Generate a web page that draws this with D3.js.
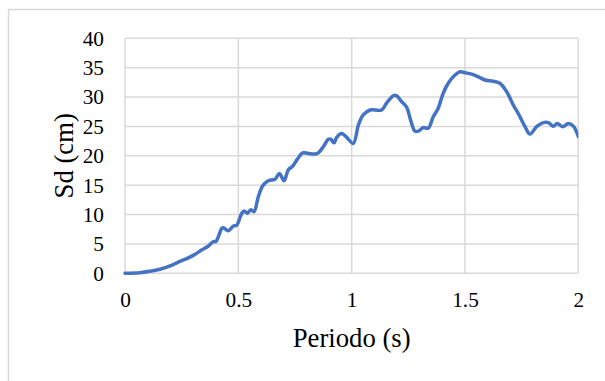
<!DOCTYPE html>
<html>
<head>
<meta charset="utf-8">
<script src="https://cdn.jsdelivr.net/npm/d3@7"></script>
<style>
  html, body { margin: 0; padding: 0; background: #fff; }
  svg { display: block; }
  svg text { font-family: 'Liberation Serif', 'Times New Roman', serif !important; fill: #000; }
</style>
</head>
<body>
<svg id="chart" width="605" height="381"></svg>
<script>
const periods = [0,0.066,0.11,0.154,0.199,0.235,0.272,0.301,0.338,0.368,0.39,0.401,0.427,0.434,0.456,0.478,0.492,0.515,0.526,0.54,0.554,0.569,0.588,0.607,0.632,0.662,0.681,0.702,0.72,0.74,0.76,0.784,0.809,0.838,0.853,0.875,0.897,0.907,0.922,0.934,0.956,0.978,1.007,1.03,1.051,1.081,1.132,1.154,1.184,1.199,1.221,1.243,1.26,1.279,1.294,1.316,1.338,1.36,1.382,1.404,1.426,1.456,1.478,1.5,1.529,1.559,1.588,1.625,1.654,1.684,1.713,1.735,1.765,1.787,1.816,1.846,1.868,1.89,1.907,1.931,1.956,1.978,2.0];
const sdValues = [0,0.1,0.35,0.7,1.25,1.9,2.5,3.05,3.95,4.65,5.4,5.4,7.65,7.75,7.25,8.05,8.15,10.2,10.6,10.2,10.8,10.5,13.0,14.85,15.75,16.0,17.0,15.75,17.6,18.25,19.4,20.5,20.4,20.3,20.5,21.55,22.8,22.85,22.2,23.15,23.8,23.15,22.1,25.25,26.95,27.8,27.8,28.95,30.25,30.2,29.2,28.25,26.1,24.2,24.2,24.8,24.7,26.65,28.1,30.65,32.35,33.75,34.3,34.15,33.9,33.45,32.9,32.7,32.35,30.9,28.65,27.2,24.95,23.7,24.95,25.65,25.65,25.05,25.5,24.95,25.5,25.05,23.3];
const xTicks = [0, 0.5, 1, 1.5, 2];
const yTicks = [0, 5, 10, 15, 20, 25, 30, 35, 40];
const xTitle = "Periodo (s)";
const yTitle = "Sd (cm)";

const FONT = "Liberation Serif, Times New Roman, serif";
const svg = d3.select("#chart");

// outer chart border
svg.append("rect")
  .attr("x", 8.5).attr("y", 9.5)
  .attr("width", 620).attr("height", 400)
  .attr("fill", "none").attr("stroke", "#d9d9d9").attr("stroke-width", 1.5);

const x = d3.scaleLinear().domain([0, 2]).range([125, 578.3]);
const y = d3.scaleLinear().domain([0, 40]).range([273.3, 38.3]);

// gridlines
const grid = svg.append("g");
grid.selectAll("line.h").data(yTicks).enter().append("line")
  .attr("x1", x(0)).attr("x2", x(2))
  .attr("y1", d => y(d)).attr("y2", d => y(d))
  .attr("stroke", "#d9d9d9").attr("stroke-width", 1.5);
grid.selectAll("line.v").data(xTicks).enter().append("line")
  .attr("y1", y(0)).attr("y2", y(40))
  .attr("x1", d => x(d)).attr("x2", d => x(d))
  .attr("stroke", "#d9d9d9").attr("stroke-width", 1.5);

// axes (labels only)
const yAxis = d3.axisLeft(y).tickValues(yTicks).tickSize(0).tickPadding(21).tickFormat(d3.format("d"));
const gy = svg.append("g").attr("transform", `translate(${x(0)},0)`).call(yAxis)
  .attr("font-family", FONT).attr("font-size", 21.3);
gy.select(".domain").remove();
gy.selectAll("text").attr("font-family", FONT).attr("font-size", 21.3).attr("fill", "#000");

const xAxis = d3.axisBottom(x).tickValues(xTicks).tickSize(0).tickPadding(19).tickFormat(d => String(d));
const gx = svg.append("g").attr("transform", `translate(0,${y(0)})`).call(xAxis)
  .attr("font-family", FONT).attr("font-size", 21.3);
gx.select(".domain").remove();
gx.selectAll("text").attr("font-family", FONT).attr("font-size", 21.3).attr("fill", "#000");

// clip
svg.append("clipPath").attr("id", "clip").append("rect")
  .attr("x", x(0) - 3).attr("y", y(40) - 3)
  .attr("width", x(2) - x(0) + 3).attr("height", y(0) - y(40) + 6);

const data = periods.map((p, i) => ({ p, v: sdValues[i] }));
const line = d3.line().x(d => x(d.p)).y(d => y(d.v)).curve(d3.curveCatmullRom.alpha(0.5));
svg.append("path").datum(data)
  .attr("clip-path", "url(#clip)")
  .attr("d", line)
  .attr("fill", "none").attr("stroke", "#4472c4")
  .attr("stroke-width", 3.5).attr("stroke-linejoin", "round").attr("stroke-linecap", "round");

// titles
svg.append("text")
  .attr("x", (x(0) + x(2)) / 2).attr("y", 346.5)
  .attr("text-anchor", "middle")
  .attr("font-family", FONT).attr("font-size", 26.7)
  .text(xTitle);

svg.append("text")
  .attr("transform", `translate(73,${(y(0) + y(40)) / 2}) rotate(-90)`)
  .attr("text-anchor", "middle")
  .attr("font-family", FONT).attr("font-size", 26.7)
  .text(yTitle);
</script>
</body>
</html>
